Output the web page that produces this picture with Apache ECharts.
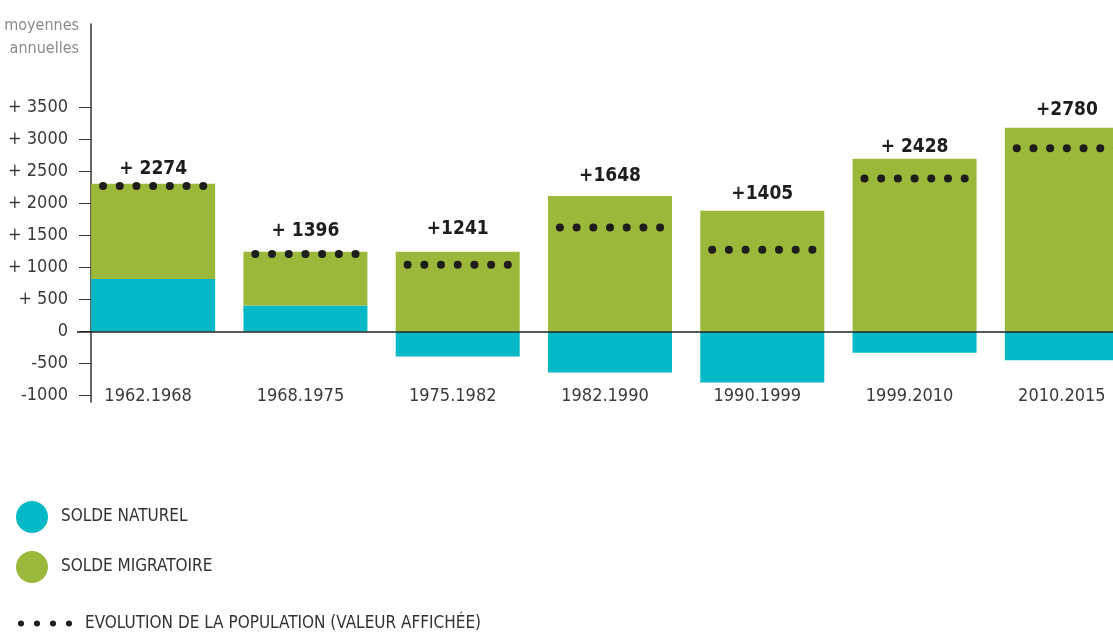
<!DOCTYPE html>
<html>
<head>
<meta charset="utf-8">
<script src="https://cdn.jsdelivr.net/npm/echarts@6/dist/echarts.min.js"></script>
<style>
html,body{margin:0;padding:0;background:#fff;}
#chart{width:1113px;height:633px;}
</style>
</head>
<body>
<div id="chart"></div>
<script>
// ---- data ----
var categories = ['1962.1968','1968.1975','1975.1982','1982.1990','1990.1999','1999.2010','2010.2015'];
var soldeNaturel = [820, 405, -390, -640, -795, -330, -450];
var soldeMigratoire = [1485, 840, 1245, 2115, 1885, 2695, 3180];
var evolution = [2273, 1212, 1041, 1622, 1275, 2387, 2861];
var evolutionLabels = ['+ 2274', '+ 1396', '+1241', '+1648', '+1405', '+ 2428', '+2780'];
var tickValues = [-1000, -500, 0, 500, 1000, 1500, 2000, 2500, 3000, 3500];
var tickLabels = ['-1000', '-500', '0', '+ 500', '+ 1000', '+ 1500', '+ 2000', '+ 2500', '+ 3000', '+ 3500'];
var seriesNames = ['SOLDE NATUREL', 'SOLDE MIGRATOIRE', 'EVOLUTION DE LA POPULATION (VALEUR AFFICHÉE)'];
var axisTitle = 'moyennes\nannuelles';

// ---- styling ----
var FONT = "'Liberation Sans Narrow','DejaVu Sans Condensed','Roboto Condensed','Liberation Sans',sans-serif";
var BLUE = '#04b9c6';
var GREEN = '#9cb83a';
var DOT = '#1d1d1b';
var labelGaps = [5, 11, 13, 10, 7, 2, 8];

var chart = echarts.init(document.getElementById('chart'), null, {renderer: 'canvas'});

var legendDots = 'path://M0,3a3,3 0 1,0 6,0a3,3 0 1,0 -6,0M16,3a3,3 0 1,0 6,0a3,3 0 1,0 -6,0M32,3a3,3 0 1,0 6,0a3,3 0 1,0 -6,0M48,3a3,3 0 1,0 6,0a3,3 0 1,0 -6,0';

var option = {
  animation: false,
  backgroundColor: '#fff',
  textStyle: {fontFamily: FONT},
  graphic: [{
    type: 'text',
    x: 79,
    y: 14,
    style: {
      text: axisTitle,
      fill: '#8a8a8a',
      font: '16px ' + FONT,
      lineHeight: 23,
      align: 'right',
      verticalAlign: 'top'
    }
  }],
  grid: {left: 77, width: 1066, top: 24, height: 378, containLabel: false, outerBoundsMode: 'none'},
  legend: [{
    orient: 'vertical',
    left: 16,
    top: 501,
    padding: 0,
    itemWidth: 32,
    itemHeight: 32,
    itemGap: 18,
    icon: 'circle',
    data: [seriesNames[0], seriesNames[1]],
    textStyle: {fontFamily: FONT, fontSize: 17, color: '#333', padding: [0, 0, 0, 8]},
    selectedMode: false
  }, {
    orient: 'horizontal',
    left: 18,
    top: 615,
    padding: 0,
    itemWidth: 54,
    itemHeight: 6,
    data: [{name: seriesNames[2], icon: legendDots, itemStyle: {color: DOT}}],
    textStyle: {fontFamily: FONT, fontSize: 17, color: '#333', padding: [0, 0, 0, 8]},
    selectedMode: false
  }],
  xAxis: {
    type: 'category',
    data: categories,
    axisLine: {show: false},
    axisTick: {show: false},
    axisLabel: {margin: -15, padding: [0, 10, 0, 0], fontFamily: FONT, fontSize: 18, color: '#3a3a3a'}
  },
  yAxis: {
    type: 'value',
    min: -1100,
    max: 4800,
    offset: -14,
    splitLine: {show: false},
    axisLine: {show: true, lineStyle: {color: '#333', width: 1.5}},
    axisTick: {show: true, length: 12, customValues: tickValues, lineStyle: {color: '#333', width: 1}},
    axisLabel: {
      customValues: tickValues,
      margin: 23,
      fontFamily: FONT,
      fontSize: 18,
      color: '#3a3a3a',
      formatter: function (v) {
        var i = tickValues.indexOf(v);
        return i >= 0 ? tickLabels[i] : '';
      }
    }
  },
  series: [{
    name: seriesNames[0],
    type: 'bar',
    stack: 'total',
    barWidth: 124,
    data: soldeNaturel,
    itemStyle: {color: BLUE},
    markLine: {
      silent: true,
      symbol: 'none',
      label: {show: false},
      lineStyle: {color: '#222', width: 1.5, type: 'solid'},
      data: [{yAxis: 0}]
    }
  }, {
    name: seriesNames[1],
    type: 'bar',
    stack: 'total',
    barWidth: 124,
    data: soldeMigratoire.map(function (v, i) {
      return {value: v, label: {distance: labelGaps[i]}};
    }),
    itemStyle: {color: GREEN},
    label: {
      show: true,
      position: 'top',
      fontFamily: FONT,
      fontWeight: 'bold',
      fontSize: 19,
      color: '#1d1d1b',
      formatter: function (p) { return evolutionLabels[p.dataIndex]; }
    }
  }, {
    name: seriesNames[2],
    type: 'custom',
    itemStyle: {color: DOT},
    data: categories.map(function (c, i) { return [i, evolution[i]]; }),
    encode: {x: 0, y: 1},
    z: 5,
    renderItem: function (params, api) {
      var p = api.coord([api.value(0), api.value(1)]);
      var children = [];
      for (var k = -3; k <= 3; k++) {
        children.push({
          type: 'circle',
          shape: {cx: p[0] + k * 16.7, cy: p[1], r: 4},
          style: {fill: DOT}
        });
      }
      return {type: 'group', children: children};
    }
  }]
};

chart.setOption(option);
</script>
</body>
</html>
